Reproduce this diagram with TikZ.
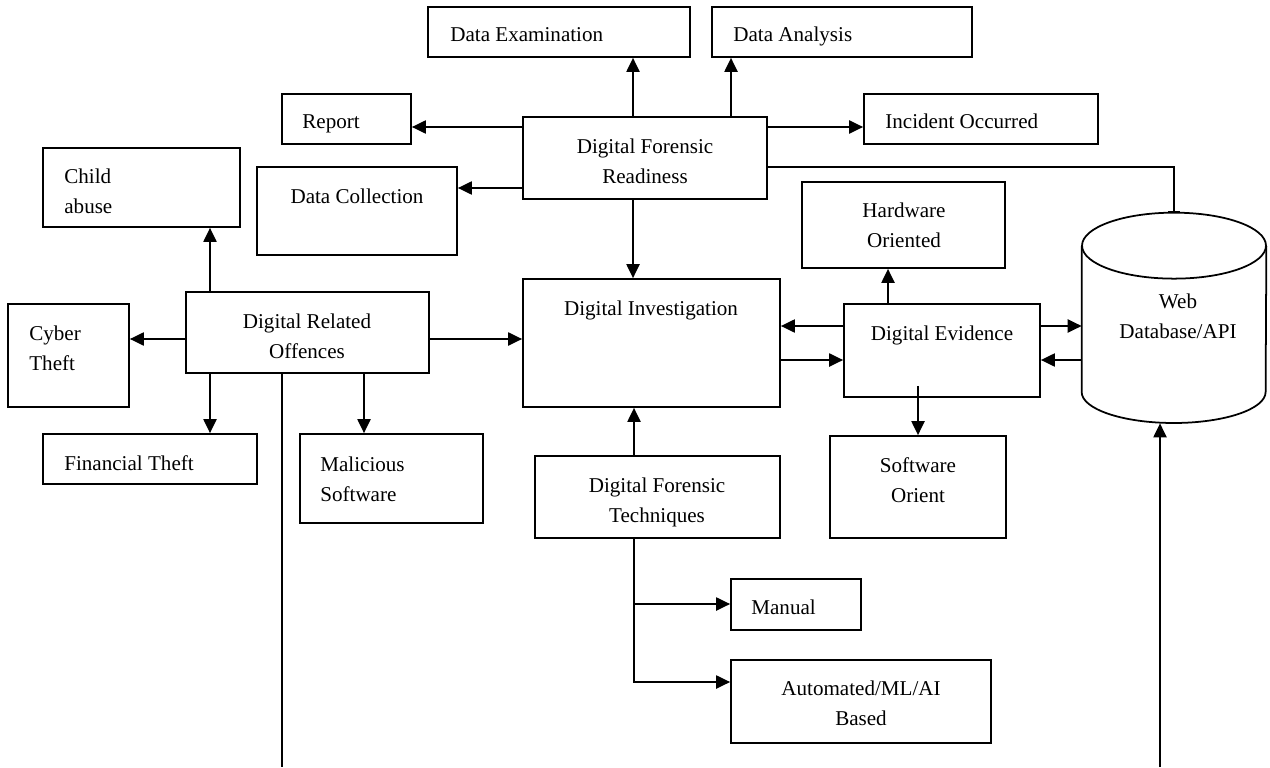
\documentclass[tikz,border=0pt]{standalone}
\usepackage{fontspec}
\setmainfont{Liberation Serif}
\usetikzlibrary{positioning,arrows.meta,calc,fit}
\tikzset{
  box/.style={draw,line width=1pt,inner sep=0pt},
  lbl/.style={inner sep=0pt,align=center,anchor=base},
  lbll/.style={inner sep=0pt,align=left,anchor=base west},
  arr/.style={line width=1pt,-{Triangle[length=8pt,width=7.5pt]}},
}

\begin{document}
\begin{tikzpicture}[x=0.02cm,y=-0.02cm,font=\fontsize{12}{17}\selectfont]
\useasboundingbox (0,0) rectangle (1270,767);
% Readiness and its outputs (multi-line text sits on its last line)
\node[box,fit={(523,117) (767,199)}] (dfr) {};
\node[lbl] (dfr-t) at (645,183) {Digital Forensic\\Readiness};
\node[box,fit={(428,7) (690,57)}] (dexam) {};
\node[lbll] (dexam-t) at (450,42) {Data Examination};
\node[box,fit={(712,7) (972,57)}] (danal) {};
\node[lbll] (danal-t) at (733,42) {Data Analysis};
\node[box,fit={(282,94) (411,144)}] (report) {};
\node[lbll] (report-t) at (302,129) {Report};
\node[box,fit={(864,94) (1098,144)}] (incident) {};
\node[lbll] (incident-t) at (885,129) {Incident Occurred};
\node[box,fit={(257,167) (457,255)}] (dcoll) {};
\node[lbl] (dcoll-t) at (357,203) {Data Collection};
% Offences
\node[box,fit={(186,292) (429,373)}] (dro) {};
\node[lbl] (dro-t) at (307,358) {Digital Related\\Offences};
\node[box,fit={(43,148) (240,227)}] (child) {};
\node[lbll] (child-t) at (64,213) {Child\\abuse};
\node[box,fit={(8,304) (129,407)}] (cyber) {};
\node[lbll] (cyber-t) at (29,370) {Cyber\\Theft};
\node[box,fit={(43,434) (257,484)}] (fin) {};
\node[lbll] (fin-t) at (64,470) {Financial Theft};
\node[box,fit={(300,434) (483,523)}] (mal) {};
\node[lbll] (mal-t) at (320,501) {Malicious\\Software};
% Investigation, evidence, techniques
\node[box,fit={(523,279) (780,407)}] (di) {};
\node[lbl] (di-t) at (651,315) {Digital Investigation};
\node[box,fit={(844,304) (1040,397)}] (de) {};
\node[lbl] (de-t) at (942,340) {Digital Evidence};
\node[box,fit={(802,182) (1005,268)}] (hw) {};
\node[lbl] (hw-t) at (904,247) {Hardware\\Oriented};
\node[box,fit={(830,436) (1006,538)}] (sw) {};
\node[lbl] (sw-t) at (918,502) {Software\\Orient};
\node[box,fit={(535,456) (780,538)}] (dft) {};
\node[lbl] (dft-t) at (657,522) {Digital Forensic\\Techniques};
\node[box,fit={(731,579) (861,630)}] (manual) {};
\node[lbll] (manual-t) at (751,614) {Manual};
\node[box,fit={(731,660) (991,743)}] (auto) {};
\node[lbl] (auto-t) at (861,725) {Automated/ML/AI\\Based};
% Database cylinder
\node[inner sep=0pt,fit={(1082,213) (1266,423)}] (db) {};
\draw[line width=1pt] (db.north west |- 0,246) -- (db.south west |- 0,392)
  arc[start angle=180,end angle=360,x radius=1.84cm,y radius=0.62cm]
  -- (db.north east |- 0,246);
\draw[line width=1pt] ($(db.north)+(0,33)$) ellipse [x radius=1.84cm,y radius=0.66cm];
\node[lbl] (db-t) at (1178,338) {Web\\Database/API};
\coordinate (dro-end) at (282,767);
\coordinate (db-in) at (1160,767);

% Readiness connectors
\draw[arr] (dfr.north -| 633,0) -- (dexam.south -| 633,0);
\draw[arr] (dfr.north -| 731,0) -- (danal.south -| 731,0);
\draw[arr] (dfr.west |- 0,127) -- (report.east |- 0,127);
\draw[arr] (dfr.east |- 0,127) -- (incident.west |- 0,127);
\draw[arr] (dfr.west |- 0,188) -- (dcoll.east |- 0,188);
\draw[arr] (dfr.south -| 633,0) -- (di.north -| 633,0);
\draw[line width=1pt,-{Bar[width=7pt]}] (dfr.east |- 0,167) -| (db.north);
% Offences connectors
\draw[arr] (dro.north -| 210,0) -- (child.south -| 210,0);
\draw[arr] (dro.west |- 0,339) -- (cyber.east |- 0,339);
\draw[arr] (dro.south -| 210,0) -- (fin.north -| 210,0);
\draw[arr] (dro.south -| 364,0) -- (mal.north -| 364,0);
\draw[arr] (dro.east |- 0,339) -- (di.west |- 0,339);
\draw[line width=1pt] (dro.south -| 282,0) -- (dro-end);
% Evidence connectors
\draw[arr] (de.west |- 0,326) -- (di.east |- 0,326);
\draw[arr] (di.east |- 0,360) -- (de.west |- 0,360);
\draw[arr] (de.east |- 0,326) -- (db.west |- 0,326);
\draw[arr] (db.west |- 0,360) -- (de.east |- 0,360);
\draw[arr] (de.north -| 888,0) -- (hw.south -| 888,0);
\draw[arr] ($(de.south -| 918,0)+(0,-12)$) -- (sw.north -| 918,0);
\draw[arr] (db-in) -- (db.south -| 1160,0);
% Techniques connectors
\draw[arr] (dft.north -| 634,0) -- (di.south -| 634,0);
\draw[arr] (dft.south -| 634,0) |- (manual.west |- 0,604);
\draw[arr] (dft.south -| 634,0) |- (auto.west |- 0,682);
\end{tikzpicture}
\end{document}
